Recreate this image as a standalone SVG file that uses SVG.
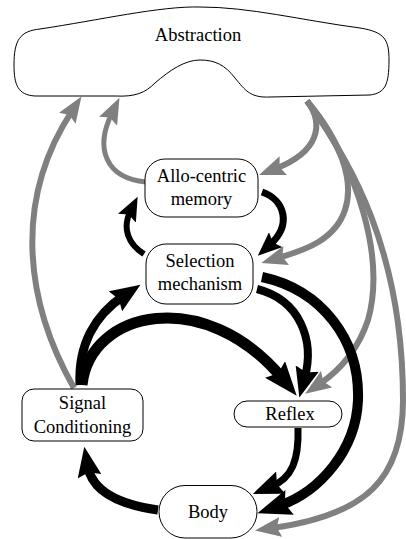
<svg xmlns="http://www.w3.org/2000/svg" width="406" height="539" viewBox="0 0 406 539">
<style>
.node{fill:#fff;stroke:#000;stroke-width:1}
.lbl{font-family:'Liberation Serif','Times New Roman',Times,'DejaVu Serif',serif;font-size:18.5px;fill:#000;text-anchor:middle}
.g{fill:none;stroke:#808080;stroke-width:6}
.b{fill:none;stroke:#000}
</style>
<defs>
<marker id="hg" markerUnits="userSpaceOnUse" viewBox="0 -10 26 20" markerWidth="26" markerHeight="20" refX="8" refY="0" orient="auto"><path d="M0,-10 L26,0 L0,10 L4,0 Z" fill="#808080"/></marker>
<marker id="hbm" markerUnits="userSpaceOnUse" viewBox="0 -10 24 20" markerWidth="24" markerHeight="20" refX="8" refY="0" orient="auto"><path d="M0,-10 L24,0 L0,10 L4,0 Z" fill="#000"/></marker>
<marker id="hbs" markerUnits="userSpaceOnUse" viewBox="0 -12 30 24" markerWidth="30" markerHeight="24" refX="10" refY="0" orient="auto"><path d="M0,-12 L30,0 L0,12 L4,0 Z" fill="#000"/></marker>
<marker id="hbl" markerUnits="userSpaceOnUse" viewBox="0 -13 34 26" markerWidth="34" markerHeight="26" refX="12" refY="0" orient="auto"><path d="M0,-13 L34,0 L0,13 L5,0 Z" fill="#000"/></marker>
</defs>
<g id="connectors">
<path class="g" d="M74,388 C24,300 14,200 71.6,111.6" marker-end="url(#hg)"/>
<path class="g" style="stroke-width:5" d="M146,182 C105,178 95,148 111.6,114" marker-end="url(#hg)"/>
<path class="g" d="M307,101 C325,125 318,152 275.8,168.5" marker-end="url(#hg)"/>
<path class="g" d="M307,101 C340,140 355,180 345,210 C335,240 305,250 278.6,257.8" marker-end="url(#hg)"/>
<path class="g" d="M307,101 C360,170 385,260 368,320 C358,350 340,370 320,383.7" marker-end="url(#hg)"/>
<path class="g" d="M307,101 C350,160 403,250 403,400 C403,480 365,515 272.8,528" marker-end="url(#hg)"/>
<path class="b" style="stroke-width:7" d="M262,192 C285,200 292,225 269.7,245" marker-end="url(#hbm)"/>
<path class="b" style="stroke-width:6" d="M144,254 C128,244 122,228 130.5,211" marker-end="url(#hbm)"/>
<path class="b" style="stroke-width:9" d="M80,385 C78,345 95,315 123.8,295.8" marker-end="url(#hbs)"/>
<path class="b" style="stroke-width:11" d="M82,385 C90,310 205,285 282.7,378.7" marker-end="url(#hbl)"/>
<path class="b" style="stroke-width:8" d="M257,289 C300,300 315,340 304.6,378.2" marker-end="url(#hbs)"/>
<path class="b" style="stroke-width:10" d="M262,277 C322,290 360,340 358,400 C356,450 320,492 278.2,506.2" marker-end="url(#hbl)"/>
<path class="b" style="stroke-width:7" d="M298,428 C299,460 292,478 271.4,486.4" marker-end="url(#hbs)"/>
<path class="b" style="stroke-width:9" d="M158,510 C115,504 92,490 87.8,466.4" marker-end="url(#hbs)"/>
</g>
<g id="abstraction">
<path class="node" d="M40,29 C100,20 160,6 200,7 C250,7 300,20 360,28 C385,32 389,40 389,60 C389,85 385,93 370,95 L270,97 C250,98 245,90 235,78 C225,65 215,60 200,60 C185,60 170,70 155,83 C145,93 135,97 115,96 L35,96 C18,95 14,85 14,65 C14,40 20,31 40,29 Z"/>
<text class="lbl" x="198" y="41" font-family="Liberation Serif, serif">Abstraction</text>
</g>
<g id="allocentric">
<rect class="node" x="145" y="159" width="113" height="58" rx="20"/>
<text class="lbl" x="201.5" y="182" font-family="Liberation Serif, serif">Allo-centric</text>
<text class="lbl" x="201.5" y="205" font-family="Liberation Serif, serif">memory</text>
</g>
<g id="selection">
<rect class="node" x="146" y="244" width="107" height="60" rx="20"/>
<text class="lbl" x="200" y="267" font-family="Liberation Serif, serif">Selection</text>
<text class="lbl" x="200" y="290" font-family="Liberation Serif, serif">mechanism</text>
</g>
<g id="signal">
<rect class="node" x="22" y="389" width="121" height="52" rx="12"/>
<text class="lbl" x="82.5" y="409" font-family="Liberation Serif, serif">Signal</text>
<text class="lbl" x="82.5" y="432.5" font-family="Liberation Serif, serif">Conditioning</text>
</g>
<g id="reflex">
<rect class="node" x="234" y="401" width="108" height="26" rx="13"/>
<text class="lbl" x="290" y="419.5" font-family="Liberation Serif, serif">Reflex</text>
</g>
<g id="body">
<rect class="node" x="159" y="485.5" width="98" height="52.5" rx="26"/>
<text class="lbl" x="208" y="518" font-family="Liberation Serif, serif">Body</text>
</g>
</svg>
